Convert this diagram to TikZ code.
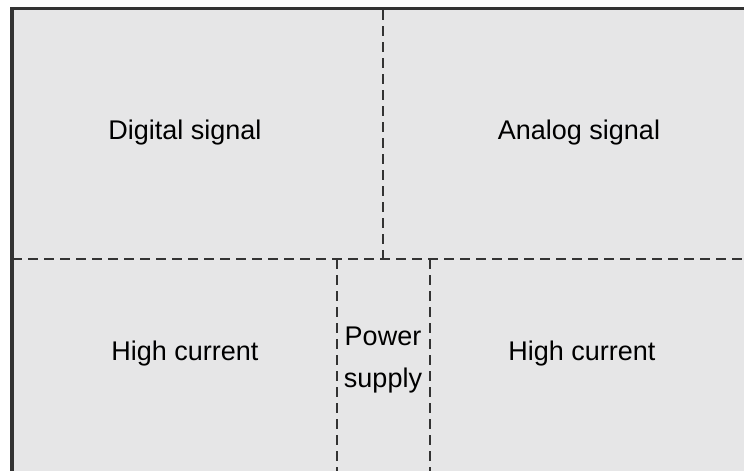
\documentclass[tikz,border=0pt]{standalone}
\usepackage{fontspec}
\setmainfont{Liberation Sans}
\definecolor{panel}{HTML}{E6E6E7}
\definecolor{frame}{HTML}{333333}
\tikzset{part/.style={draw=frame,line width=2.8pt,dash pattern=on 10pt off 6pt},
  zone/.style={font=\fontsize{27}{42}\selectfont,anchor=base,align=center}}
\begin{document}
\begin{tikzpicture}[x=1pt,y=-1pt]
\useasboundingbox(0,0)rectangle(744,471);
\clip(0,0)rectangle(744,471);
\draw[fill=panel,draw=frame,line width=3.8pt](12,8.5)rectangle(770,500);
\draw[part](12,259)--(744,259);
\draw[part](383,10)--(383,259);
\draw[part](337,259)--(337,471);
\draw[part](430,259)--(430,471);
\node[zone](dig) at (185,139){Digital signal};
\node[zone](ana) at (579,139){Analog signal};
\node[zone](hil) at (185,360){High current};
\node[zone](hir) at (582,360){High current};
\node[zone,anchor=center](pwr) at (383,360){Power\\supply};
\end{tikzpicture}
\end{document}
